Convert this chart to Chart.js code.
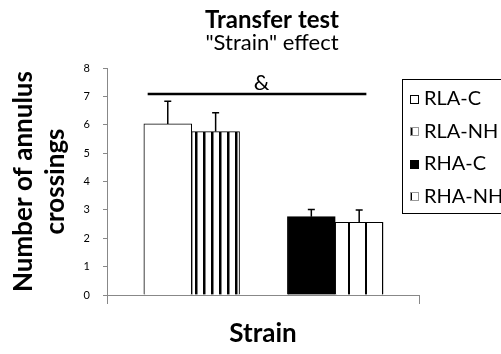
<!DOCTYPE html>
<html><head><meta charset="utf-8">
<script src="https://cdn.jsdelivr.net/npm/chart.js@4"></script>
<style>html,body{margin:0;padding:0;background:#fff}canvas{display:block}</style>
</head><body>
<canvas id="c" width="501" height="354"></canvas>
<script>
// ---- data ----
const chartTitle = 'Transfer test';
const chartSubtitle = '"Strain" effect';
const yAxisTitle = ['Number of annulus', 'crossings'];
const xAxisTitle = 'Strain';
const strains = ['RLA', 'RHA'];
const conditions = ['C', 'NH'];
const seriesLabels = ['RLA-C', 'RLA-NH', 'RHA-C', 'RHA-NH'];
const seriesMeans = [6.03, 5.76, 2.76, 2.56];
const seriesErrors = [0.80, 0.66, 0.25, 0.44];
const yTickMin = 0, yTickMax = 8, yTickStep = 1;
const sigLabel = '&';

// ---- styles ----
const FONT = 'Lato, "Liberation Sans", sans-serif';
Chart.defaults.font.family = FONT;
Chart.defaults.color = '#000';

function stripePattern(period, w, off) {
  const c = document.createElement('canvas');
  c.width = period; c.height = 8;
  const g = c.getContext('2d');
  g.fillStyle = '#fff'; g.fillRect(0, 0, period, 8);
  g.fillStyle = '#000'; g.fillRect(off, 0, w, 8);
  return g.createPattern(c, 'repeat');
}
const fillStyles = [
  { fill: '#ffffff', off: 0, mark: '#000' },
  { fill: stripePattern(8, 2.5, 3), off: 3, mark: '#999' },
  { fill: '#000000', off: 0, mark: '#000' },
  { fill: stripePattern(17, 2, 8), off: 8, mark: '#999' }
];

// slot on the x axis derived from strain group / condition index
function slotOf(i) {
  const g = Math.floor(i / conditions.length), m = i % conditions.length;
  return g * (conditions.length + 1) + m + 1;
}

const datasets = seriesLabels.map((lab, i) => ({
  label: lab,
  data: [{ x: slotOf(i), y: seriesMeans[i] }],
  backgroundColor: fillStyles[i].fill,
  borderColor: '#000',
  borderWidth: 1,
  grouped: false,
  barPercentage: 1,
  categoryPercentage: 1
}));

const errorBars = {
  id: 'errorBars',
  afterDatasetsDraw(chart) {
    const ctx = chart.ctx, y = chart.scales.y;
    ctx.save();
    ctx.strokeStyle = '#000'; ctx.lineWidth = 1.5;
    chart.data.datasets.forEach((ds, i) => {
      const bar = chart.getDatasetMeta(i).data[0];
      const top = y.getPixelForValue(seriesMeans[i] + seriesErrors[i]);
      ctx.beginPath();
      ctx.moveTo(bar.x, bar.y); ctx.lineTo(bar.x, top);
      ctx.moveTo(bar.x - 3.5, top); ctx.lineTo(bar.x + 3.5, top);
      ctx.stroke();
    });
    ctx.restore();
  }
};

const sigPlugin = {
  id: 'sig',
  afterDatasetsDraw(chart, args, o) {
    const ctx = chart.ctx, x = chart.scales.x, y = chart.scales.y;
    const yy = y.getPixelForValue(o.y);
    ctx.save();
    ctx.strokeStyle = '#000'; ctx.lineWidth = 2.5;
    ctx.beginPath();
    ctx.moveTo(x.getPixelForValue(o.from), yy);
    ctx.lineTo(x.getPixelForValue(o.to), yy);
    ctx.stroke();
    ctx.fillStyle = '#000';
    ctx.font = '22px ' + FONT;
    ctx.textAlign = 'center'; ctx.textBaseline = 'middle';
    ctx.fillText(sigLabel, x.getPixelForValue(o.labelX), y.getPixelForValue(o.labelY));
    ctx.restore();
  }
};

const boxLegend = {
  id: 'boxLegend',
  afterDraw(chart, args, o) {
    const ctx = chart.ctx;
    ctx.save();
    ctx.strokeStyle = '#000'; ctx.lineWidth = 1;
    ctx.strokeRect(o.left + 0.5, o.top + 0.5, o.width, o.height);
    ctx.font = '20px ' + FONT;
    ctx.textBaseline = 'middle'; ctx.textAlign = 'left'; ctx.fillStyle = '#000';
    chart.data.datasets.forEach((ds, i) => {
      const cy = o.firstY + i * o.spacing;
      const ms = o.markerSize;
      const top = Math.round(cy - ms / 2);
      ctx.save();
      ctx.translate(o.markerX - fillStyles[i].off, top);
      ctx.fillStyle = ds.backgroundColor;
      ctx.fillRect(fillStyles[i].off, 0, ms, ms);
      ctx.restore();
      ctx.strokeStyle = fillStyles[i].mark; ctx.lineWidth = 1;
      ctx.strokeRect(o.markerX + 0.5, top + 0.5, ms - 1, ms - 1);
      ctx.fillStyle = '#000';
      ctx.fillText(ds.label, o.textX, cy);
    });
    ctx.restore();
  }
};

const titleShift = {
  id: 'titleShift',
  afterLayout(chart, args, o) {
    chart.boxes.forEach(b => {
      if (b.position === 'top' && b.options && typeof b.options.text === 'string') {
        b.left += o.dx; b.right += o.dx;
      }
    });
  }
};

const whiteBg = {
  id: 'whiteBg',
  beforeDraw(chart) {
    const ctx = chart.ctx;
    ctx.save(); ctx.fillStyle = '#fff';
    ctx.fillRect(0, 0, chart.width, chart.height); ctx.restore();
  }
};

new Chart(document.getElementById('c'), {
  type: 'bar',
  data: { datasets },
  plugins: [whiteBg, errorBars, sigPlugin, boxLegend, titleShift],
  options: {
    responsive: false,
    devicePixelRatio: 1,
    animation: false,
    layout: { padding: { left: 0, right: 82, top: 0, bottom: 0 } },
    plugins: {
      legend: { display: false },
      tooltip: { enabled: false },
      title: {
        display: true, text: chartTitle, fullSize: false, color: '#000',
        font: { size: 24, weight: 'bold', lineHeight: 1.0 },
        padding: { top: 8, bottom: 0 }
      },
      subtitle: {
        display: true, text: chartSubtitle, fullSize: false, color: '#000',
        font: { size: 22, weight: 'normal', lineHeight: 1.0 },
        padding: { top: 0, bottom: 14 }
      },
      sig: { from: 0.58, to: 5.15, y: 7.08, labelX: 2.96, labelY: 7.47 },
      boxLegend: { left: 402, top: 79, width: 130, height: 134, markerX: 410, markerSize: 9, firstY: 99, spacing: 32.5, textX: 424 },
      titleShift: { dx: 9 }
    },
    scales: {
      x: {
        type: 'linear',
        min: -0.27, max: 6.25,
        offset: false,
        afterBuildTicks: s => { s.ticks = [{ value: s.min }, { value: s.max }]; },
        afterFit: s => { s.height = 59; },
        ticks: { display: false },
        grid: { display: true, drawOnChartArea: false, drawTicks: true, tickLength: 9, color: '#888', offset: false },
        border: { display: true, color: '#888', width: 1 },
        title: {
          display: true, text: xAxisTitle, color: '#000',
          font: { size: 26, weight: 'bold', lineHeight: 1.2 },
          padding: { top: 0, bottom: 4.4 }
        }
      },
      y: {
        min: yTickMin, max: yTickMax,
        afterFit: s => { s.width = 107; },
        ticks: { stepSize: yTickStep, padding: 13, color: '#000', font: { size: 11 } },
        grid: { display: true, drawOnChartArea: false, drawTicks: true, tickLength: 4, color: '#888' },
        border: { display: true, color: '#888', width: 1 },
        title: {
          display: true, text: yAxisTitle, color: '#000',
          font: { size: 26, weight: 'bold', lineHeight: 1.23 },
          padding: { top: 8, bottom: 0 }
        }
      }
    }
  }
});
</script>
</body></html>
